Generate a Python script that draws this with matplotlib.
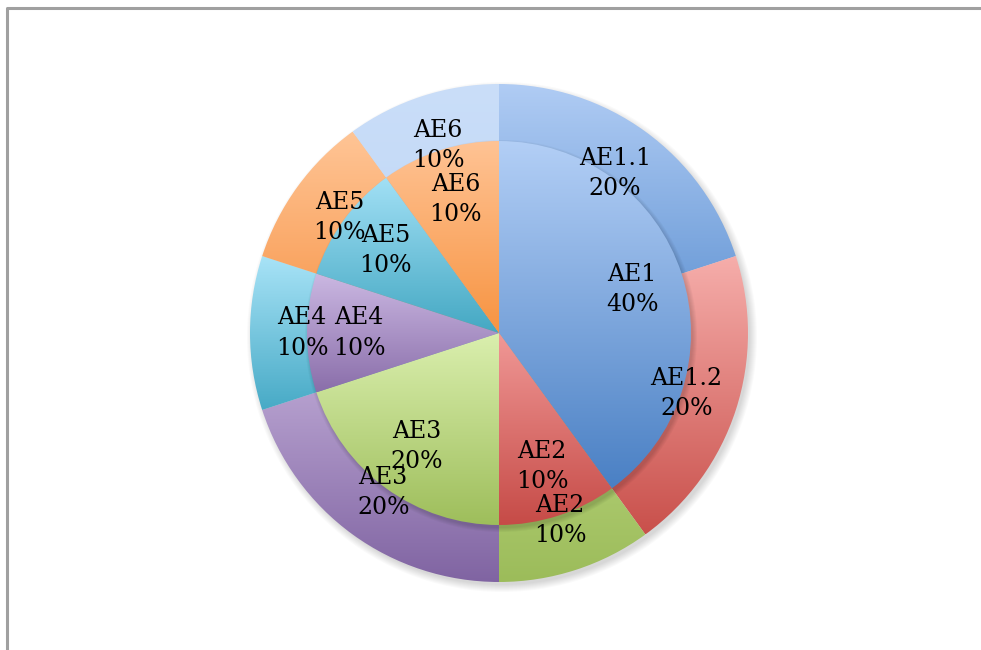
import matplotlib
matplotlib.use("Agg")
import matplotlib.pyplot as plt
from matplotlib.colors import LinearSegmentedColormap
from matplotlib.patches import Circle
import numpy as np

# outer ring
outer_names = ["AE1.1", "AE1.2", "AE2", "AE3", "AE4", "AE5", "AE6"]
outer_pct = [20, 20, 10, 20, 10, 10, 10]
outer_light = ["#b0ccf4", "#f6aeab", "#c2dc8a", "#c6b2dc", "#a8e3f7", "#ffc596", "#cadef9"]
outer_dark = ["#5f92d2", "#c9504b", "#9cbc5a", "#8064a2", "#47aac6", "#f7964a", "#bdd5f4"]

# inner pie
inner_names = ["AE1", "AE2", "AE3", "AE4", "AE5", "AE6"]
inner_pct = [40, 10, 20, 10, 10, 10]
inner_light = ["#b3cff6", "#f09896", "#daefae", "#cbb8e2", "#a2e0f5", "#ffc394"]
inner_dark = ["#4a80c4", "#c64b47", "#9ebe5b", "#8a6eaa", "#44a8c3", "#f79442"]

W, H = 981, 650
cx, cy = 499, 650 - 333
r_out, r_in = 249, 192


def shade(wedges, light, dark, ax):
    # vertical gradient per slice, light on top
    for w, c1, c2 in zip(wedges, light, dark):
        bb = w.get_path().get_extents(w.get_patch_transform())
        cmap = LinearSegmentedColormap.from_list("g", [c2, c1])
        grad = np.linspace(0, 1, 256).reshape(-1, 1)
        im = ax.imshow(grad, cmap=cmap, origin="lower", aspect="auto",
                       extent=[bb.x0, bb.x1, bb.y0, bb.y1], zorder=w.get_zorder(),
                       interpolation="bilinear")
        im.set_clip_path(w)
        w.set_facecolor("none")


fig = plt.figure(figsize=(9.81, 6.5), dpi=100)
ax = fig.add_axes([0, 0, 1, 1])
ax.axis("off")

# soft shadow
for k in range(8):
    ax.add_patch(Circle((cx + 3, cy - 4), r_out + 6 - k, color="#000000",
                        alpha=0.018, lw=0, zorder=0))
for k in range(5):
    ax.add_patch(Circle((cx + 2, cy - 3), r_in + 4 - k, color="#000000",
                        alpha=0.03, lw=0, zorder=2.5))

tp = dict(fontfamily="DejaVu Serif", fontsize=17, color="black", linespacing=1.4)

ow, ot = ax.pie(outer_pct, labels=[f"{n}\n{p}%" for n, p in zip(outer_names, outer_pct)],
                startangle=90, counterclock=False, center=(cx, cy), radius=r_out,
                labeldistance=197 / r_out, textprops=tp,
                wedgeprops=dict(linewidth=0, zorder=2))
for t in ot:
    t.set_ha("center")
    t.set_va("center")
    t.set_zorder(10)
shade(ow, outer_light, outer_dark, ax)

iw, it = ax.pie(inner_pct, labels=[f"{n}\n{p}%" for n, p in zip(inner_names, inner_pct)],
                startangle=90, counterclock=False, center=(cx, cy), radius=r_in,
                labeldistance=140 / r_in, textprops=tp,
                wedgeprops=dict(linewidth=0, zorder=3))
for t in it:
    t.set_ha("center")
    t.set_va("center")
    t.set_zorder(10)
shade(iw, inner_light, inner_dark, ax)

ax.set_xlim(0, W)
ax.set_ylim(0, H)
ax.set_aspect("equal")

# chart frame (only top and left visible)
ax.plot([7, 7, W], [0, H - 8, H - 8], color="#a0a0a0", lw=2.2, zorder=20,
        solid_capstyle="butt")

fig.savefig("out.png", dpi=100)
